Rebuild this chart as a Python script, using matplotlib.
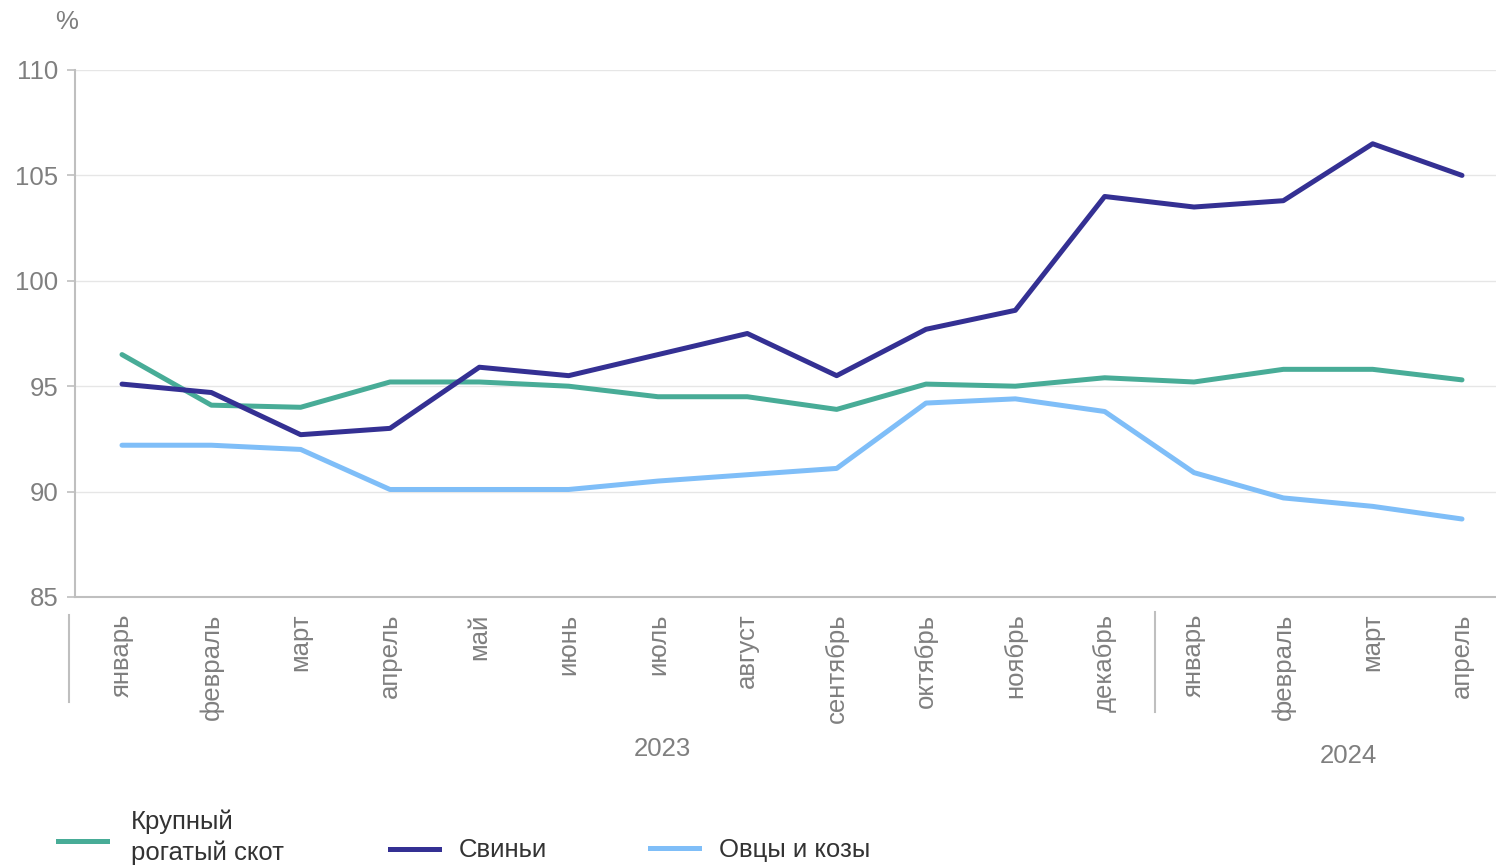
import matplotlib
matplotlib.use("Agg")
import matplotlib.pyplot as plt

plt.rcParams['font.family'] = ['Liberation Sans', 'DejaVu Sans']

months = ["январь", "февраль", "март", "апрель", "май", "июнь", "июль", "август",
          "сентябрь", "октябрь", "ноябрь", "декабрь",
          "январь", "февраль", "март", "апрель"]
years = ["2023", "2024"]
cattle = [96.5, 94.1, 94.0, 95.2, 95.2, 95.0, 94.5, 94.5, 93.9, 95.1, 95.0, 95.4,
          95.2, 95.8, 95.8, 95.3]
pigs = [95.1, 94.7, 92.7, 93.0, 95.9, 95.5, 96.5, 97.5, 95.5, 97.7, 98.6, 104.0,
        103.5, 103.8, 106.5, 105.0]
sheep = [92.2, 92.2, 92.0, 90.1, 90.1, 90.1, 90.5, 90.8, 91.1, 94.2, 94.4, 93.8,
         90.9, 89.7, 89.3, 88.7]
series_names = ["Крупный\nрогатый скот", "Свиньи", "Овцы и козы"]
colors = ["#48AC97", "#343093", "#7FBEF8"]
yticks = [85, 90, 95, 100, 105, 110]

FS = 18.5
LW = 3.6
W, H = 1496, 867
fig = plt.figure(figsize=(W / 100, H / 100), dpi=100)
ax_left, ax_right = 75 / W, 1.0
ax_bottom, ax_top = 1 - 597 / H, 1 - 70 / H
ax = fig.add_axes([ax_left, ax_bottom, ax_right - ax_left, ax_top - ax_bottom])

x = list(range(len(months)))
step = 89.33
ax.set_xlim(-(122 - 75) / step, 15 + (1496 - 1462) / step)
ax.set_ylim(85, 110)

for vals, c, name in zip([cattle, pigs, sheep], colors, series_names):
    ax.plot(x, vals, color=c, lw=LW, solid_capstyle='round',
            solid_joinstyle='round', label=name, zorder=3)

ax.set_yticks(yticks)
ax.set_yticklabels([str(v) for v in yticks])
ax.yaxis.grid(True, color="#E6E6E6", lw=1)
ax.set_axisbelow(True)
for s in ["top", "right"]:
    ax.spines[s].set_visible(False)
ax.spines["left"].set_color("#BFBFBF")
ax.spines["left"].set_linewidth(1.5)
ax.spines["bottom"].set_color("#BFBFBF")
ax.spines["bottom"].set_linewidth(1.5)
ax.tick_params(axis='y', colors="#BFBFBF", labelcolor="#7F7F7F", labelsize=FS,
               length=6, width=1.2, pad=6)
ax.set_xticks(x)
ax.set_xticklabels(months, rotation=90, va='top', ha='center')
ax.tick_params(axis='x', length=0, labelcolor="#7F7F7F", labelsize=FS, pad=12)

# % label
fig.text(67 / W, 1 - 22 / H, "%", color="#7F7F7F", fontsize=FS, ha='center', va='center')

# group separators
trans = fig.transFigure
fig.add_artist(plt.Line2D([69 / W, 69 / W], [1 - 615 / H, 1 - 702 / H],
                          transform=trans, color="#BFBFBF", lw=1.5))
fig.add_artist(plt.Line2D([1155 / W, 1155 / W], [1 - 612 / H, 1 - 712 / H],
                          transform=trans, color="#BFBFBF", lw=1.5))
fig.text(662 / W, 1 - 749 / H, years[0], color="#7F7F7F", fontsize=FS, ha='center', va='center')
fig.text(1348 / W, 1 - 756 / H, years[1], color="#7F7F7F", fontsize=FS, ha='center', va='center')

# legend (manual)
leg = [(58, 841, 131, 837), (390, 849, 459, 850), (650, 848, 719, 850)]
for (lx, ly, tx, ty), c, name in zip(leg, colors, series_names):
    fig.add_artist(plt.Line2D([lx / W, (lx + 49) / W], [1 - ly / H, 1 - ly / H],
                              transform=trans, color=c, lw=LW))
    fig.text(tx / W, 1 - ty / H, name, color="#333333", fontsize=FS, ha='left',
             va='center', linespacing=1.35)

fig.savefig("out.png", dpi=100)
